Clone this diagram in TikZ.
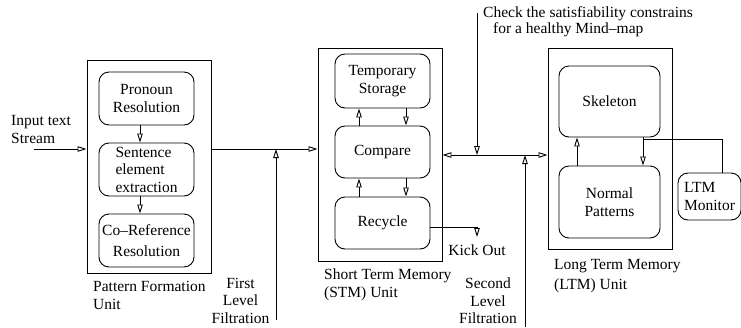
\documentclass[tikz,border=0pt]{standalone}
\usepackage{fontspec}
\setmainfont{Liberation Serif}
\usetikzlibrary{arrows.meta}
\begin{document}
\begin{tikzpicture}[x=1pt,y=-1pt,font=\fontsize{15.5}{17.5}\selectfont,
  unit/.style={draw,line width=0.9pt,inner sep=0pt},
  part/.style={draw,rounded corners=10pt,line width=0.9pt,align=center,inner sep=1pt},
  arr/.style={-{Triangle[open,length=9pt,width=5.5pt]},line width=0.9pt},
  darr/.style={{Triangle[open,length=9pt,width=5.5pt]}-{Triangle[open,length=9pt,width=5.5pt]},line width=0.9pt}]
\useasboundingbox (0,0) rectangle (741,327);

% pattern formation unit
\node (pfu) at (149,166.5) [unit,minimum width=124,minimum height=213]{};
\node (pr) at (146.5,98.5) [part,minimum width=95,minimum height=53]{Pronoun\\Resolution};
\node (se) at (146.5,169.5) [part,minimum width=95,minimum height=53,align=left]{Sentence\\element\\extraction};
\node (cr) at (146.5,240.5) [part,minimum width=95,minimum height=53]{Co--Reference\\[4pt]Resolution};

% short term memory
\node (stm) at (380,154.5) [unit,minimum width=124,minimum height=213]{};
\node (ts) at (382.5,81) [part,minimum width=95,minimum height=54]{Temporary\\Storage};
\node (cmp) at (382.5,152) [part,minimum width=95,minimum height=52]{Compare};
\node (rc) at (382.5,223) [part,minimum width=95,minimum height=52]{Recycle};

% long term memory
\node (ltm) at (610,148.5) [unit,minimum width=124,minimum height=201]{};
\node (sk) at (609.5,101.5) [part,minimum width=101,minimum height=71]{Skeleton};
\node (np) at (609.5,202) [part,minimum width=101,minimum height=72]{Normal\\Patterns};
\node (mon) at (709.5,196.5) [part,minimum width=63,minimum height=47,align=left]{LTM\\Monitor};

% labels
\node (inp) at (11,129.5) [anchor=west,align=left,inner sep=0pt]{Input text\\Stream};
\node (pfl) at (93,295.5) [anchor=west,align=left,inner sep=0pt]{Pattern Formation\\[1pt]Unit};
\node (fl1) at (240.5,300.5) [align=center,inner sep=0pt]{First\\Level\\Filtration};
\node (stml) at (324,285) [anchor=west,align=left,inner sep=0pt]{Short Term Memory\\[1pt](STM) Unit};
\node (fl2) at (488,301) [align=center,inner sep=0pt]{Second\\Level\\Filtration};
\node (ltml) at (554,276) [anchor=west,align=left,inner sep=0pt]{Long Term Memory\\[2pt](LTM) Unit};
\node (chkl) at (483,21.5) [anchor=west,align=left,inner sep=0pt]{Check the satisfiability constrains\\[-2pt]\hspace*{10pt}for a healthy Mind--map};
\node (ko) at (477,250) [inner sep=0pt]{Kick Out};

\coordinate (in) at (34,149);
\coordinate (f1) at (276,320);
\coordinate (mid) at (500,155);
\coordinate (chk) at (477,13);
\coordinate (f2) at (525,327);
\coordinate (kb) at (477,227);
\coordinate (kt) at (477,237);

\draw[arr] (in) -- (in -| pfu.west);
\draw[arr] (pfu.east |- in) -- (stm.west |- in);
\draw[arr] (f1) -- (f1 |- in);
\draw[darr] (stm.east |- mid) -- (ltm.west |- mid);
\draw[arr] (chk) -- (chk |- mid);
\draw[arr] (f2) -- (f2 |- mid);
\draw[arr] (rc.east |- kb) -- (kb) -- (kt);

\draw[arr] ([xshift=-6.5pt]pr.south) -- ([xshift=-6.5pt]se.north);
\draw[arr] ([xshift=-6.5pt]se.south) -- ([xshift=-6.5pt]cr.north);

\draw[arr] ([xshift=-23.5pt]cmp.north) -- ([xshift=-23.5pt]ts.south);
\draw[arr] ([xshift=23.5pt]ts.south) -- ([xshift=23.5pt]cmp.north);
\draw[arr] ([xshift=-23.5pt]rc.north) -- ([xshift=-23.5pt]cmp.south);
\draw[arr] ([xshift=23.5pt]cmp.south) -- ([xshift=23.5pt]rc.north);

\draw[arr] ([xshift=-32.5pt]np.north) -- ([xshift=-32.5pt]sk.south);
\draw[arr] ([xshift=33.5pt]sk.south) -- ([xshift=33.5pt]np.north);
\draw[line width=0.9pt] ([xshift=33.5pt,yshift=-2pt]sk.south) -| ([xshift=12.5pt]mon.north);
\end{tikzpicture}
\end{document}
